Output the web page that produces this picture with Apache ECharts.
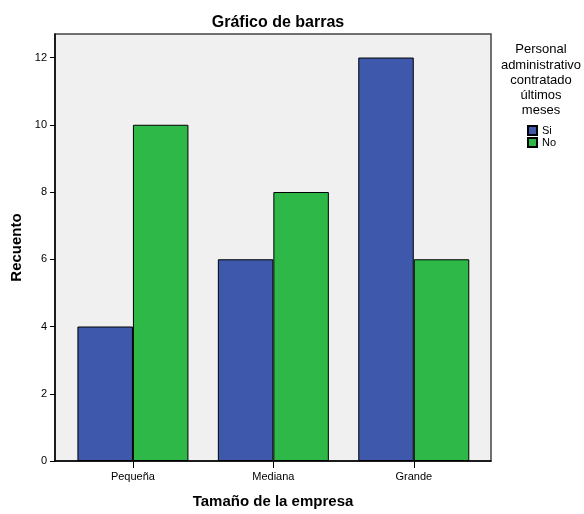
<!DOCTYPE html>
<html>
<head>
<meta charset="utf-8">
<script src="https://cdn.jsdelivr.net/npm/echarts@6/dist/echarts.min.js"></script>
<style>html,body{margin:0;padding:0;background:#fff}#c{width:584px;height:514px}</style>
</head>
<body>
<div id="c"></div>
<script>
const categories = ['Pequeña', 'Mediana', 'Grande'];
const siValues = [4, 6, 12];
const noValues = [10, 8, 6];
const yTicks = [0, 2, 4, 6, 8, 10, 12];
const seriesNames = ['Si', 'No'];

const FONT = 'Liberation Sans, Arial, sans-serif';
const positions = categories.map((c, i) => i + 1);

const chart = echarts.init(document.getElementById('c'), null, {renderer: 'canvas'});
chart.setOption({
  animation: false,
  backgroundColor: '#ffffff',
  title: {
    text: 'Gráfico de barras',
    left: 273, top: 10, textAlign: 'center',
    textStyle: {fontFamily: FONT, fontSize: 16, fontWeight: 'bold', color: '#000'}
  },
  graphic: [{
    type: 'text', x: 541, y: 42,
    style: {
      text: 'Personal\nadministrativo\ncontratado\núltimos\nmeses',
      textAlign: 'center', textVerticalAlign: 'top',
      fontFamily: FONT, fontSize: 13, lineHeight: 15.3, fill: '#000'
    }
  }],
  legend: {
    orient: 'vertical', left: 527, top: 125, padding: 0,
    itemWidth: 9, itemHeight: 9, itemGap: 1,
    icon: 'rect',
    textStyle: {fontFamily: FONT, fontSize: 11, color: '#000'},
    data: seriesNames
  },
  grid: {
    left: 55, right: 93, top: 34, bottom: 49,
    show: true, backgroundColor: '#f0f0f0', borderColor: '#444', borderWidth: 1.5
  },
  xAxis: {
    type: 'value', min: 0.445, max: 3.55,
    splitLine: {show: false},
    axisLine: {show: true, lineStyle: {color: '#000', width: 1.5}},
    axisTick: {show: true, length: 7, customValues: positions, lineStyle: {color: '#000'}},
    axisLabel: {
      customValues: positions, margin: 10,
      fontFamily: FONT, fontSize: 11, color: '#000',
      formatter: v => categories[Math.round(v) - 1] || ''
    },
    name: 'Tamaño de la empresa', nameLocation: 'middle', nameGap: 33,
    nameTextStyle: {fontFamily: FONT, fontSize: 15, fontWeight: 'bold', color: '#000'}
  },
  yAxis: {
    type: 'value', min: 0, max: 12.7,
    splitLine: {show: false},
    axisLine: {show: true, lineStyle: {color: '#000', width: 1.5}},
    axisTick: {show: true, length: 5, customValues: yTicks, lineStyle: {color: '#000'}},
    axisLabel: {customValues: yTicks, margin: 8, fontFamily: FONT, fontSize: 11, color: '#000'},
    name: 'Recuento', nameLocation: 'middle', nameGap: 28,
    nameTextStyle: {fontFamily: FONT, fontSize: 15, fontWeight: 'bold', color: '#000'}
  },
  series: [
    {
      name: seriesNames[0], type: 'bar', barWidth: 55.5, barGap: '0%',
      itemStyle: {color: '#3e58ac', borderColor: '#000', borderWidth: 1},
      data: positions.map((p, i) => [p, siValues[i]])
    },
    {
      name: seriesNames[1], type: 'bar', barWidth: 55.5, barGap: '0%',
      itemStyle: {color: '#2eb848', borderColor: '#000', borderWidth: 1},
      data: positions.map((p, i) => [p, noValues[i]])
    }
  ]
});
</script>
</body>
</html>
